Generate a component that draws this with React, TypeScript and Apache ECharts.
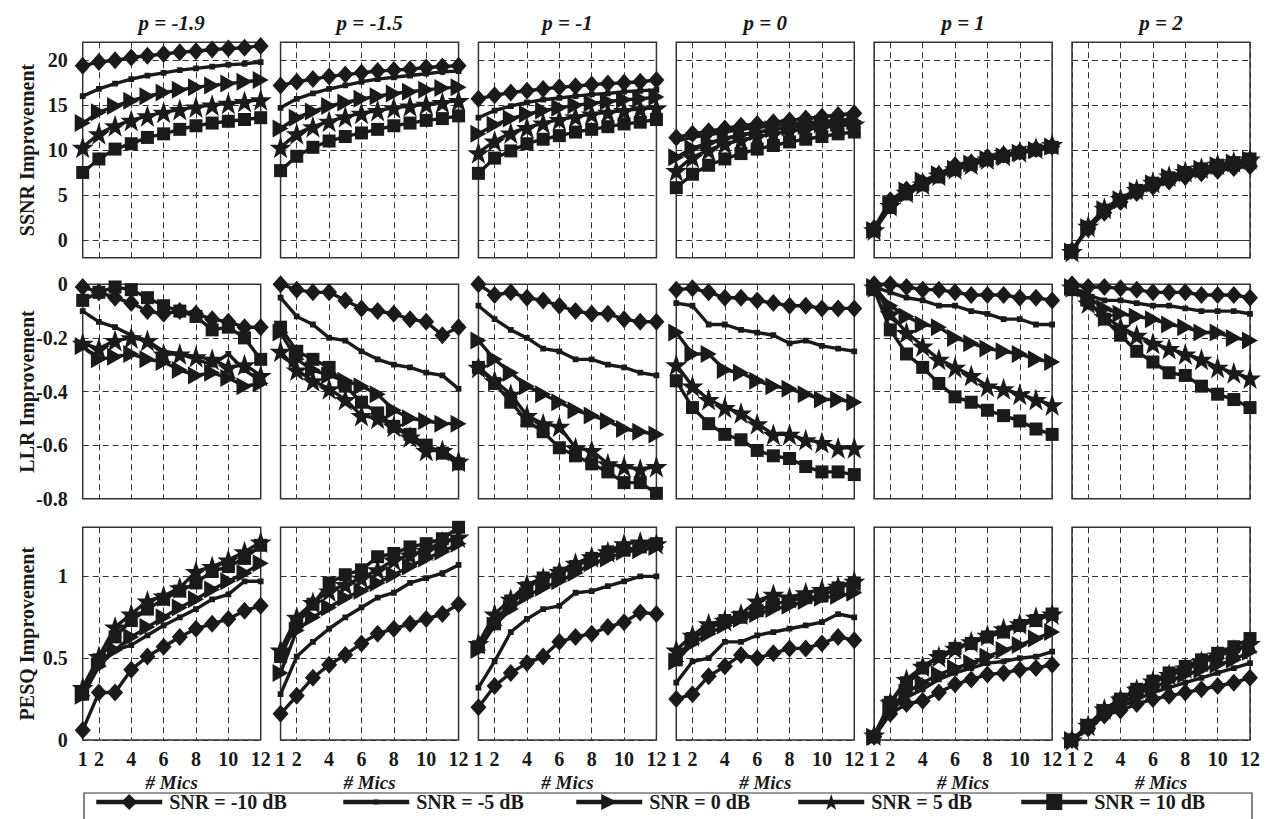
import React, { useEffect, useRef } from 'react';
import * as echarts from 'echarts';

const mics = [1, 2, 3, 4, 5, 6, 7, 8, 9, 10, 11, 12];
const micTicks = [1, 2, 4, 6, 8, 10, 12];
const pTitles = ['p = -1.9', 'p = -1.5', 'p = -1', 'p = 0', 'p = 1', 'p = 2'];
const snrNames = ['SNR = -10 dB', 'SNR = -5 dB', 'SNR = 0 dB', 'SNR = 5 dB', 'SNR = 10 dB'];
const rowNames = ['SSNR Improvement', 'LLR Improvement', 'PESQ Improvement'];
const ssnrTicks = [0, 5, 10, 15, 20];
const llrTicks = [-0.8, -0.6, -0.4, -0.2, 0];
const pesqTicks = [0, 0.5, 1];

// SSNR improvement, order: -10, -5, 0, 5, 10 dB
const ssnrPm19 = [
  [19.4, 19.8, 20.0, 20.3, 20.5, 20.7, 20.9, 21.0, 21.2, 21.3, 21.4, 21.6],
  [16.0, 16.8, 17.4, 17.9, 18.3, 18.6, 18.9, 19.1, 19.3, 19.5, 19.6, 19.8],
  [13.0, 14.2, 14.9, 15.5, 16.0, 16.4, 16.7, 17.0, 17.2, 17.4, 17.6, 17.8],
  [10.3, 11.8, 12.7, 13.3, 13.8, 14.2, 14.5, 14.8, 15.0, 15.2, 15.4, 15.6],
  [7.5, 9.0, 10.1, 10.7, 11.4, 11.8, 12.3, 12.7, 13.0, 13.2, 13.4, 13.6],
];
const ssnrPm15 = [
  [17.2, 17.6, 17.9, 18.2, 18.4, 18.6, 18.8, 18.9, 19.0, 19.2, 19.3, 19.4],
  [14.7, 15.7, 16.3, 16.8, 17.2, 17.6, 17.9, 18.1, 18.3, 18.5, 18.7, 18.8],
  [12.4, 13.6, 14.3, 14.9, 15.3, 15.7, 16.0, 16.3, 16.5, 16.7, 16.9, 17.0],
  [10.3, 11.8, 12.6, 13.2, 13.7, 14.1, 14.4, 14.7, 14.9, 15.1, 15.3, 15.5],
  [7.7, 9.3, 10.3, 11.0, 11.5, 11.9, 12.3, 12.7, 13.0, 13.3, 13.5, 13.8],
];
const ssnrPm1 = [
  [15.7, 16.1, 16.4, 16.6, 16.8, 17.0, 17.1, 17.3, 17.4, 17.5, 17.6, 17.8],
  [13.6, 14.4, 14.9, 15.3, 15.6, 15.8, 16.0, 16.2, 16.3, 16.5, 16.6, 16.7],
  [11.8, 12.8, 13.5, 14.0, 14.4, 14.7, 15.0, 15.2, 15.4, 15.6, 15.7, 15.9],
  [9.7, 11.0, 11.9, 12.5, 13.0, 13.4, 13.7, 14.0, 14.2, 14.4, 14.6, 14.7],
  [7.4, 9.1, 9.9, 10.7, 11.2, 11.6, 12.0, 12.3, 12.6, 12.9, 13.1, 13.4],
];
const ssnrP0 = [
  [11.4, 11.8, 12.1, 12.4, 12.7, 12.9, 13.1, 13.3, 13.5, 13.7, 13.9, 14.1],
  [11.0, 11.4, 11.7, 12.0, 12.3, 12.5, 12.7, 12.9, 13.0, 13.2, 13.3, 13.5],
  [9.2, 10.2, 10.8, 11.3, 11.7, 12.0, 12.3, 12.5, 12.7, 12.9, 13.0, 13.2],
  [7.7, 9.2, 10.0, 10.7, 11.1, 11.5, 11.8, 12.1, 12.3, 12.5, 12.7, 12.9],
  [5.8, 7.3, 8.3, 9.0, 9.6, 10.1, 10.5, 10.9, 11.2, 11.5, 11.8, 12.0],
];
const ssnrP1 = [
  [1.3, 4.4, 5.6, 6.4, 7.3, 8.3, 8.6, 9.2, 9.5, 9.8, 10.1, 10.4],
  [1.2, 4.2, 5.6, 6.5, 7.2, 8.0, 8.5, 9.0, 9.4, 9.7, 10.0, 10.3],
  [1.1, 4.0, 5.5, 6.6, 7.3, 7.9, 8.5, 9.0, 9.3, 9.7, 10.0, 10.4],
  [1.1, 3.8, 5.3, 6.2, 7.2, 7.9, 8.4, 9.0, 9.4, 9.8, 10.2, 10.6],
  [1.0, 3.6, 5.1, 6.1, 7.0, 7.8, 8.4, 8.9, 9.3, 9.7, 10.0, 10.3],
];
const ssnrP2 = [
  [-1.2, 1.2, 3.0, 4.2, 5.2, 5.9, 6.5, 7.0, 7.4, 7.7, 8.0, 8.2],
  [-1.2, 1.3, 3.2, 4.3, 5.4, 6.1, 6.8, 7.3, 7.7, 8.0, 8.3, 8.6],
  [-1.3, 1.4, 3.4, 4.5, 5.5, 6.3, 7.0, 7.5, 7.9, 8.3, 8.6, 8.9],
  [-1.3, 1.5, 3.5, 4.6, 5.6, 6.4, 7.1, 7.6, 8.0, 8.4, 8.7, 9.0],
  [-1.2, 1.4, 3.3, 4.4, 5.5, 6.3, 6.9, 7.5, 7.9, 8.3, 8.6, 9.0],
];

// LLR improvement
const llrPm19 = [
  [-0.01, -0.03, -0.05, -0.07, -0.1, -0.11, -0.1, -0.11, -0.13, -0.14, -0.16, -0.16],
  [-0.1, -0.14, -0.16, -0.19, -0.21, -0.25, -0.26, -0.28, -0.3, -0.26, -0.32, -0.36],
  [-0.23, -0.28, -0.27, -0.26, -0.28, -0.29, -0.32, -0.34, -0.33, -0.35, -0.38, -0.37],
  [-0.22, -0.24, -0.21, -0.2, -0.21, -0.26, -0.26, -0.27, -0.28, -0.31, -0.3, -0.34],
  [-0.06, -0.03, -0.01, -0.02, -0.05, -0.08, -0.1, -0.12, -0.17, -0.16, -0.2, -0.28],
];
const llrPm15 = [
  [0.0, -0.02, -0.03, -0.03, -0.06, -0.09, -0.1, -0.11, -0.13, -0.14, -0.19, -0.16],
  [-0.05, -0.12, -0.15, -0.2, -0.21, -0.25, -0.28, -0.3, -0.31, -0.33, -0.34, -0.39],
  [-0.18, -0.28, -0.32, -0.34, -0.36, -0.38, -0.41, -0.47, -0.5, -0.51, -0.52, -0.52],
  [-0.25, -0.32, -0.36, -0.39, -0.43, -0.49, -0.5, -0.53, -0.57, -0.62, -0.62, -0.66],
  [-0.16, -0.25, -0.28, -0.31, -0.38, -0.44, -0.48, -0.53, -0.56, -0.6, -0.63, -0.67],
];
const llrPm1 = [
  [0.0, -0.04, -0.03, -0.05, -0.06, -0.08, -0.1, -0.11, -0.11, -0.13, -0.14, -0.14],
  [-0.08, -0.13, -0.17, -0.2, -0.24, -0.25, -0.28, -0.28, -0.3, -0.31, -0.33, -0.34],
  [-0.21, -0.28, -0.33, -0.38, -0.41, -0.44, -0.47, -0.49, -0.51, -0.54, -0.55, -0.56],
  [-0.31, -0.36, -0.41, -0.49, -0.52, -0.53, -0.61, -0.62, -0.67, -0.68, -0.69, -0.68],
  [-0.31, -0.37, -0.44, -0.51, -0.55, -0.61, -0.64, -0.67, -0.7, -0.74, -0.74, -0.78],
];
const llrP0 = [
  [-0.02, -0.015, -0.03, -0.05, -0.05, -0.06, -0.07, -0.08, -0.08, -0.09, -0.09, -0.09],
  [-0.07, -0.08, -0.15, -0.15, -0.17, -0.18, -0.19, -0.22, -0.21, -0.23, -0.24, -0.25],
  [-0.18, -0.26, -0.26, -0.32, -0.33, -0.36, -0.38, -0.39, -0.41, -0.43, -0.43, -0.44],
  [-0.3, -0.38, -0.43, -0.46, -0.48, -0.52, -0.56, -0.56, -0.58, -0.59, -0.61, -0.61],
  [-0.36, -0.46, -0.52, -0.56, -0.58, -0.62, -0.64, -0.65, -0.68, -0.7, -0.7, -0.71],
];
const llrP1 = [
  [0.0, 0.0, -0.01, -0.02, -0.02, -0.03, -0.04, -0.04, -0.04, -0.05, -0.05, -0.06],
  [-0.01, -0.03, -0.05, -0.06, -0.08, -0.08, -0.1, -0.11, -0.13, -0.13, -0.15, -0.15],
  [-0.01, -0.08, -0.12, -0.15, -0.16, -0.2, -0.22, -0.24, -0.25, -0.26, -0.28, -0.29],
  [-0.01, -0.11, -0.18, -0.23, -0.28, -0.31, -0.34, -0.38, -0.39, -0.41, -0.43, -0.45],
  [-0.02, -0.17, -0.26, -0.31, -0.37, -0.42, -0.44, -0.47, -0.49, -0.51, -0.54, -0.56],
];
const llrP2 = [
  [0.0, -0.01, -0.01, -0.015, -0.02, -0.03, -0.03, -0.03, -0.04, -0.04, -0.04, -0.05],
  [-0.01, -0.04, -0.06, -0.06, -0.07, -0.08, -0.08, -0.09, -0.1, -0.1, -0.1, -0.11],
  [-0.01, -0.05, -0.09, -0.11, -0.12, -0.13, -0.15, -0.16, -0.18, -0.18, -0.2, -0.21],
  [-0.01, -0.07, -0.12, -0.16, -0.19, -0.22, -0.24, -0.26, -0.28, -0.31, -0.33, -0.35],
  [-0.02, -0.06, -0.13, -0.19, -0.25, -0.29, -0.33, -0.34, -0.38, -0.41, -0.43, -0.46],
];

// PESQ improvement
const pesqPm19 = [
  [0.06, 0.29, 0.29, 0.43, 0.51, 0.57, 0.63, 0.68, 0.71, 0.74, 0.79, 0.82],
  [0.26, 0.48, 0.55, 0.58, 0.64, 0.7, 0.75, 0.8, 0.86, 0.89, 0.97, 0.97],
  [0.27, 0.45, 0.55, 0.63, 0.69, 0.75, 0.81, 0.86, 0.92, 0.97, 1.02, 1.08],
  [0.32, 0.51, 0.69, 0.77, 0.85, 0.88, 0.93, 1.03, 1.06, 1.1, 1.15, 1.21],
  [0.28, 0.49, 0.63, 0.73, 0.8, 0.86, 0.91, 0.96, 1.03, 1.06, 1.11, 1.19],
];
const pesqPm15 = [
  [0.16, 0.27, 0.38, 0.46, 0.52, 0.59, 0.65, 0.68, 0.71, 0.74, 0.77, 0.83],
  [0.28, 0.51, 0.6, 0.68, 0.75, 0.81, 0.87, 0.9, 0.96, 0.99, 1.02, 1.07],
  [0.41, 0.67, 0.75, 0.81, 0.87, 0.91, 0.96, 1.01, 1.06, 1.11, 1.15, 1.2],
  [0.55, 0.75, 0.84, 0.91, 0.95, 0.99, 1.04, 1.1, 1.13, 1.16, 1.21, 1.24],
  [0.51, 0.72, 0.83, 0.96, 1.01, 1.04, 1.12, 1.14, 1.18, 1.2, 1.23, 1.3],
];
const pesqPm1 = [
  [0.2, 0.33, 0.41, 0.47, 0.51, 0.6, 0.63, 0.65, 0.69, 0.72, 0.78, 0.77],
  [0.32, 0.48, 0.66, 0.74, 0.8, 0.82, 0.9, 0.91, 0.94, 0.97, 1.0, 1.0],
  [0.55, 0.7, 0.8, 0.88, 0.93, 0.97, 1.02, 1.08, 1.11, 1.15, 1.16, 1.18],
  [0.59, 0.77, 0.86, 0.95, 0.99, 1.03, 1.08, 1.12, 1.15, 1.2, 1.21, 1.2],
  [0.57, 0.71, 0.85, 0.93, 0.99, 1.02, 1.06, 1.11, 1.15, 1.16, 1.18, 1.2],
];
const pesqP0 = [
  [0.25, 0.28, 0.39, 0.45, 0.52, 0.5, 0.53, 0.56, 0.56, 0.59, 0.63, 0.61],
  [0.35, 0.48, 0.5, 0.6, 0.6, 0.64, 0.66, 0.68, 0.7, 0.72, 0.77, 0.75],
  [0.48, 0.59, 0.65, 0.7, 0.74, 0.77, 0.8, 0.82, 0.85, 0.87, 0.88, 0.9],
  [0.55, 0.64, 0.71, 0.73, 0.77, 0.85, 0.89, 0.87, 0.9, 0.92, 0.94, 0.97],
  [0.49, 0.62, 0.68, 0.73, 0.75, 0.79, 0.83, 0.85, 0.87, 0.88, 0.93, 0.96],
];
const pesqP1 = [
  [0.02, 0.16, 0.22, 0.24, 0.29, 0.34, 0.37, 0.4, 0.41, 0.43, 0.44, 0.46],
  [0.02, 0.18, 0.26, 0.31, 0.37, 0.41, 0.44, 0.47, 0.48, 0.5, 0.51, 0.54],
  [0.02, 0.2, 0.29, 0.35, 0.4, 0.44, 0.47, 0.51, 0.55, 0.58, 0.62, 0.66],
  [0.03, 0.23, 0.37, 0.45, 0.51, 0.56, 0.6, 0.64, 0.68, 0.71, 0.75, 0.77],
  [0.02, 0.23, 0.35, 0.44, 0.51, 0.56, 0.59, 0.63, 0.66, 0.7, 0.73, 0.77],
];
const pesqP2 = [
  [0.0, 0.07, 0.15, 0.18, 0.22, 0.25, 0.27, 0.29, 0.31, 0.33, 0.35, 0.38],
  [0.0, 0.07, 0.15, 0.2, 0.25, 0.29, 0.32, 0.35, 0.38, 0.41, 0.44, 0.47],
  [0.0, 0.08, 0.17, 0.22, 0.28, 0.32, 0.36, 0.4, 0.43, 0.46, 0.49, 0.54],
  [0.0, 0.09, 0.19, 0.25, 0.31, 0.36, 0.4, 0.44, 0.48, 0.52, 0.55, 0.59],
  [0.0, 0.09, 0.18, 0.25, 0.31, 0.36, 0.41, 0.45, 0.49, 0.53, 0.57, 0.62],
];

const ssnrPanels = [ssnrPm19, ssnrPm15, ssnrPm1, ssnrP0, ssnrP1, ssnrP2];
const llrPanels = [llrPm19, llrPm15, llrPm1, llrP0, llrP1, llrP2];
const pesqPanels = [pesqPm19, pesqPm15, pesqPm1, pesqP0, pesqP1, pesqP2];
const rowsData = [ssnrPanels, llrPanels, pesqPanels];

const FONT = '"Liberation Serif", "Times New Roman", serif';
const INK = '#1a1a1a';
const GRIDC = '#333';

const STAR = 'path://M50,0L61.8,35.1L97.6,35.1L68.8,56.8L79.4,91.2L50,70.3L20.6,91.2L31.2,56.8L2.4,35.1L38.2,35.1Z';
const TRI_RIGHT = 'path://M0,0L10,6L0,12Z';
// small square padded inside a larger invisible bounding box
const SMALL_SQ = 'path://M0,0L0.01,0M100,100L99.99,100M34,34L66,34L66,66L34,66Z';
const symbols = [
  { symbol: 'diamond', size: [16, 18] },
  { symbol: SMALL_SQ, size: [18, 18] },
  { symbol: TRI_RIGHT, size: [16, 18] },
  { symbol: STAR, size: [22, 22] },
  { symbol: 'rect', size: [13, 13] },
];

const colLeft0 = 82.7;
const colStep = 197.86;
const colWidth = 178;
const rowTop = [42.3, 284.3, 527.3];
const rowHeight = [215.4, 214.4, 212.7];
const yCfg = [
  { min: -2, max: 22, ticks: ssnrTicks },
  { min: -0.8, max: 0, ticks: llrTicks },
  { min: 0, max: 1.3, ticks: pesqTicks },
];

function buildOption() {
  const grids: any[] = [];
  const xAxes: any[] = [];
  const yAxes: any[] = [];
  const series: any[] = [];
  const graphics: any[] = [];
  const dash = { type: [6, 4], color: GRIDC, width: 1 };

  for (let r = 0; r < 3; r++) {
    for (let c = 0; c < 6; c++) {
      const k = r * 6 + c;
      const left = colLeft0 + c * colStep;
      grids.push({
        left, top: rowTop[r], width: colWidth, height: rowHeight[r],
        show: true, borderColor: GRIDC, borderWidth: 1.5, backgroundColor: 'transparent',
        containLabel: false,
      });
      const onZeroLine = r === 0 && c === 5;
      xAxes.push({
        gridIndex: k, type: 'value', min: 1, max: 12,
        axisLine: onZeroLine
          ? { show: true, onZero: true, lineStyle: { color: GRIDC, width: 1.2 } }
          : { show: false },
        axisTick: { show: false, customValues: micTicks },
        splitLine: { show: true, lineStyle: dash },
        axisLabel: {
          show: r === 2, customValues: micTicks, margin: 9,
          fontFamily: FONT, fontWeight: 'bold', fontSize: 20, color: INK,
        },
      });
      yAxes.push({
        gridIndex: k, type: 'value', min: yCfg[r].min, max: yCfg[r].max,
        axisLine: { show: false },
        axisTick: { show: false, customValues: yCfg[r].ticks },
        splitLine: { show: true, lineStyle: dash },
        axisLabel: {
          show: c === 0, customValues: yCfg[r].ticks, margin: 15,
          fontFamily: FONT, fontWeight: 'bold', fontSize: 20, color: INK,
        },
      });
      const panel = rowsData[r][c];
      for (let s = 0; s < 5; s++) {
        series.push({
          type: 'line', name: snrNames[s], xAxisIndex: k, yAxisIndex: k,
          data: mics.map((m, i) => [m, panel[s][i]]),
          symbol: symbols[s].symbol, symbolSize: symbols[s].size,
          showAllSymbol: true, clip: false, silent: true, z: 2 + s,
          lineStyle: { color: INK, width: 3.4 },
          itemStyle: { color: INK, borderColor: INK, borderWidth: 0 },
        });
      }
      if (r === 0) {
        graphics.push({
          type: 'text', x: left + colWidth / 2, y: 23,
          style: {
            text: pTitles[c], font: `italic bold 21px ${FONT}`, fill: INK,
            textAlign: 'center', textVerticalAlign: 'middle', align: 'center', verticalAlign: 'middle',
          },
        });
      }
      if (r === 2) {
        graphics.push({
          type: 'text', x: left + colWidth / 2, y: 782,
          style: {
            text: '# Mics', font: `italic bold 19px ${FONT}`, fill: INK,
            textAlign: 'center', textVerticalAlign: 'middle', align: 'center', verticalAlign: 'middle',
          },
        });
      }
    }
    graphics.push({
      type: 'text', x: 27, y: rowTop[r] + rowHeight[r] / 2, rotation: Math.PI / 2,
      style: {
        text: rowNames[r], font: `bold 20px ${FONT}`, fill: INK,
        textAlign: 'center', textVerticalAlign: 'middle', align: 'center', verticalAlign: 'middle',
      },
    });
  }

  graphics.push({
    type: 'rect', shape: { x: 84, y: 793, width: 1168, height: 40 },
    style: { fill: 'none', stroke: GRIDC, lineWidth: 1.2 }, z: 0,
  });

  const legendLeft = [94, 341, 574, 796, 1019];
  const legends = snrNames.map((n, s) => ({
    data: [{ name: n }], left: legendLeft[s], top: 792, orient: 'horizontal',
    itemWidth: 66, itemHeight: 20, itemGap: 0, padding: 0, selectedMode: false,
    textStyle: { fontFamily: FONT, fontWeight: 'bold', fontSize: 20, color: INK, padding: [0, 0, 0, 2] },
    lineStyle: { width: 4.5 },
  }));

  return {
    animation: false,
    backgroundColor: '#ffffff',
    grid: grids,
    xAxis: xAxes,
    yAxis: yAxes,
    series,
    legend: legends,
    graphic: graphics,
  };
}

export default function App() {
  const ref = useRef<HTMLDivElement>(null);
  useEffect(() => {
    if (!ref.current) return;
    const chart = echarts.init(ref.current, undefined, { renderer: 'svg' });
    chart.setOption(buildOption() as any);
    return () => chart.dispose();
  }, []);
  return (
    <div
      ref={ref}
      style={{ position: 'fixed', left: 0, top: 0, width: 1266, height: 819, background: '#fff' }}
    />
  );
}
